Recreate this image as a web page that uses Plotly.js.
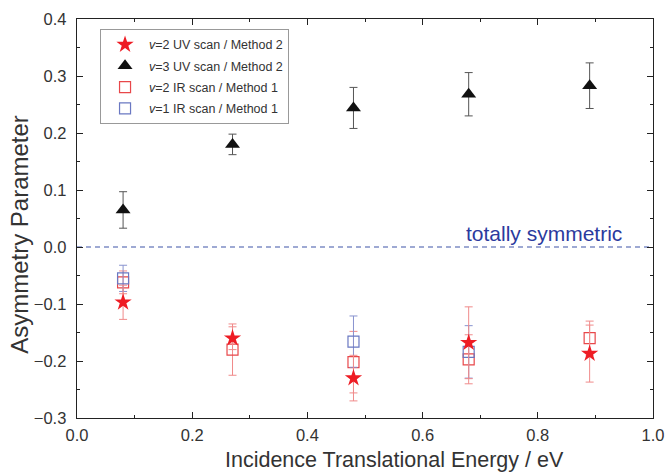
<!DOCTYPE html>
<html>
<head>
<meta charset="utf-8">
<script src="https://cdn.plot.ly/plotly-3.0.1.min.js"></script>
<style>html,body{margin:0;padding:0;background:#fff}#chart{width:665px;height:473px}</style>
</head>
<body>
<div id="chart"></div>
<script>
// Data
const energy = [0.08, 0.27, 0.48, 0.68, 0.89];
const v2UV = [-0.097, -0.160, -0.230, -0.168, -0.187];
const v2UVerr = [0.030, 0.020, 0.040, 0.063, 0.050];
const v3UV = [0.065, 0.180, 0.244, 0.268, 0.283];
const v3UVerr = [0.032, 0.018, 0.036, 0.038, 0.040];
const v2IR = [-0.062, -0.180, -0.202, -0.197, -0.160];
const v2IRerr = [0.020, 0.045, 0.054, 0.043, 0.030];
const energyV1 = [0.08, 0.48, 0.68];
const v1IR = [-0.055, -0.166, -0.184];
const v1IRerr = [0.023, 0.045, 0.046];
const names = [
  '<i>v</i>=2 UV scan / Method 2',
  '<i>v</i>=3 UV scan / Method 2',
  '<i>v</i>=2 IR scan / Method 1',
  '<i>v</i>=1 IR scan / Method 1'
];
const xTitle = 'Incidence Translational Energy / eV';
const yTitle = 'Asymmetry Parameter';
const refLabel = 'totally symmetric';

const FONT = 'Liberation Sans, Arial, sans-serif';

const traces = [
  {x: energy, y: v2IR, name: names[2], legendrank: 3, legendgroup: 'c', mode: 'markers', type: 'scatter',
   marker: {symbol: 'square-open', size: 11, color: '#e8474a', line: {width: 1.2}},
   error_y: {type: 'data', array: v2IRerr, color: '#f08a8a', thickness: 1, width: 4}},
  {x: energyV1, y: v1IR, name: names[3], legendrank: 4, legendgroup: 'd', mode: 'markers', type: 'scatter',
   marker: {symbol: 'square-open', size: 11, color: '#6a78c2', line: {width: 1.2}},
   error_y: {type: 'data', array: v1IRerr, color: '#8893cf', thickness: 1, width: 4}},
  {x: energy, y: v3UV, name: names[1], legendrank: 2, legendgroup: 'b', mode: 'markers', type: 'scatter',
   marker: {symbol: 'triangle-up', size: 13, color: '#111'},
   error_y: {type: 'data', array: v3UVerr, color: '#555', thickness: 1, width: 4}},
  {x: energy, y: v2UV, name: names[0], legendrank: 1, legendgroup: 'a', mode: 'markers', type: 'scatter',
   marker: {symbol: 'star', size: 13, color: '#ee1c24'},
   error_y: {type: 'data', array: v2UVerr, color: '#f08a8a', thickness: 1, width: 4}}
];

const axisCommon = {
  showline: true, linecolor: '#222', linewidth: 1.3, mirror: 'ticks',
  ticks: 'inside', ticklen: 6, tickcolor: '#222', showgrid: false, zeroline: false,
  ticklabeloverflow: 'allow',
  tickfont: {family: FONT, size: 16.5, color: '#333'}
};

const layout = {
  width: 665, height: 473,
  margin: {l: 77, r: 12, t: 19, b: 55},
  paper_bgcolor: '#fff', plot_bgcolor: '#fff',
  showlegend: true,
  legend: {x: 0.04, y: 0.975, xanchor: 'left', yanchor: 'top',
    bgcolor: '#fff', bordercolor: '#999', borderwidth: 1,
    font: {family: FONT, size: 12.5, color: '#333'},
    tracegroupgap: 2, itemwidth: 38},
  xaxis: Object.assign({}, axisCommon, {
    range: [0, 1], dtick: 0.2, tickformat: '.1f', ticklabelstandoff: 2,
    minor: {ticks: 'inside', dtick: 0.1, ticklen: 3, tickcolor: '#222'}
  }),
  yaxis: Object.assign({}, axisCommon, {
    range: [-0.3, 0.4], dtick: 0.1, tickformat: '.1f', ticklabelstandoff: 6,
    minor: {ticks: 'inside', dtick: 0.05, ticklen: 3, tickcolor: '#222'}
  }),
  shapes: [{type: 'line', xref: 'paper', x0: 0, x1: 1, yref: 'y', y0: 0, y1: 0,
    line: {color: '#3f55a8', width: 1.1, dash: '5px,4px'}, layer: 'below'}],
  annotations: [
    {x: 0.81, y: 0.0, xref: 'x', yref: 'y', yanchor: 'bottom', showarrow: false,
     text: refLabel, yshift: 0,
     font: {family: FONT, size: 21, color: '#2b3a9e'}},
    {x: 0.552, y: -0.106, xref: 'paper', yref: 'paper', xanchor: 'center', yanchor: 'middle',
     showarrow: false, text: xTitle, font: {family: FONT, size: 21.5, color: '#333'}},
    {x: -0.1, y: 0.46, xref: 'paper', yref: 'paper', xanchor: 'center', yanchor: 'middle',
     showarrow: false, textangle: -90, text: yTitle, font: {family: FONT, size: 24, color: '#333'}}
  ]
};

Plotly.newPlot('chart', traces, layout, {displayModeBar: false, staticPlot: true});
</script>
</body>
</html>
